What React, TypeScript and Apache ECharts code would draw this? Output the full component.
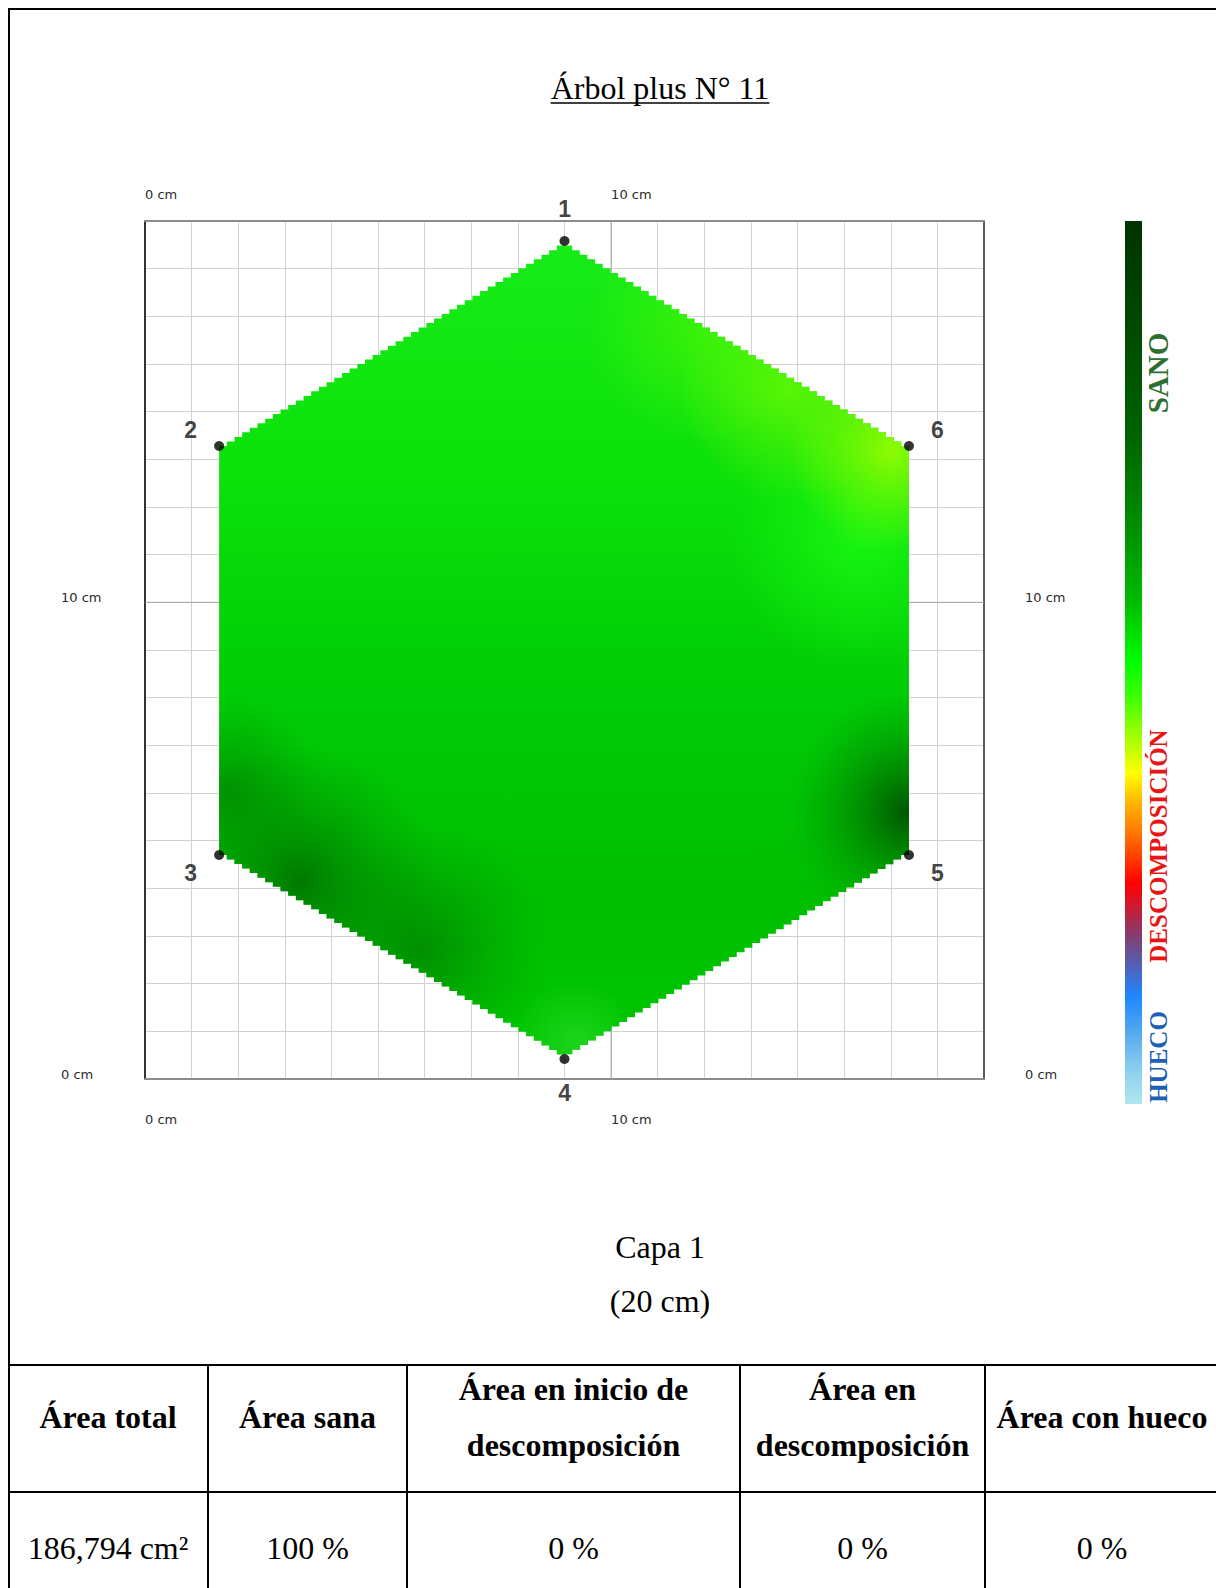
import React, { useEffect, useRef } from "react";
import * as echarts from "echarts";

// ---------- data ----------
const TITLE = "Árbol plus N° 11";
const LAYER_LABEL = "Capa 1";
const HEIGHT_LABEL = "(20 cm)";

const SENSOR_NAMES = ["1", "2", "3", "4", "5", "6"];
const SENSOR_X = [9.0, 1.59, 1.59, 9.0, 16.39, 16.39]; // cm
const SENSOR_Y = [17.58, 13.28, 4.7, 0.42, 4.7, 13.28]; // cm

const AXIS_MIN = 0;
const AXIS_MAX = 18;
const AXIS_STEP = 1;
const LABELED_TICKS = [0, 10];
const MAJOR_TICKS = [10];

const LEGEND_LABELS = ["SANO", "DESCOMPOSICIÓN", "HUECO"];

const TABLE_HEADERS = [
  "Área total",
  "Área sana",
  "Área en inicio de\ndescomposición",
  "Área en\ndescomposición",
  "Área con hueco",
];
const TABLE_VALUES = ["186,794 cm²", "100 %", "0 %", "0 %", "0 %"];

// ---------- styling / layout ----------
const SERIF = "'Liberation Serif', 'Times New Roman', serif";
const SANS = "'Liberation Sans', Arial, sans-serif";
const GRID = { left: 145, top: 221, width: 839, height: 858 };
const COL_EDGES = [8, 208, 407, 740, 985, 1219];
const ROW_LINES = [1365, 1492];

// Shading of the tomogram field (cm coords, radius in cm)
const FIELD_SHADES = [
  { x: 15.34, y: 11.31, r: 2.8, c0: "rgba(30,255,20,0.7)", c1: "rgba(30,255,20,0)" },
  { x: 11.91, y: 15.71, r: 2.4, c0: "rgba(95,250,0,0.5)", c1: "rgba(95,250,0,0)" },
  { x: 13.84, y: 14.45, r: 2.4, c0: "rgba(130,255,0,0.65)", c1: "rgba(130,255,0,0)" },
  { x: 16.0, y: 13.2, r: 2.2, c0: "rgba(165,255,0,0.85)", c1: "rgba(150,255,0,0)" },
  { x: 16.39, y: 5.6, r: 2.6, c0: "rgba(0,72,0,0.9)", c1: "rgba(0,140,0,0)" },
  { x: 3.33, y: 4.17, r: 2.9, c0: "rgba(0,90,0,0.7)", c1: "rgba(0,130,0,0)" },
  { x: 5.9, y: 2.71, r: 2.7, c0: "rgba(0,100,0,0.55)", c1: "rgba(0,130,0,0)" },
  { x: 1.8, y: 6.06, r: 2.0, c0: "rgba(0,100,0,0.5)", c1: "rgba(0,130,0,0)" },
  { x: 9.23, y: 0.82, r: 1.3, c0: "rgba(50,225,50,0.55)", c1: "rgba(50,225,50,0)" },
];

const COLORBAR_STOPS = [
  { offset: 0, color: "#003300" },
  { offset: 0.09, color: "#004400" },
  { offset: 0.24, color: "#006200" },
  { offset: 0.35, color: "#009000" },
  { offset: 0.43, color: "#00bb00" },
  { offset: 0.5, color: "#00ff00" },
  { offset: 0.54, color: "#40ff00" },
  { offset: 0.58, color: "#99ff00" },
  { offset: 0.625, color: "#ffff00" },
  { offset: 0.656, color: "#ffbb00" },
  { offset: 0.693, color: "#ff7700" },
  { offset: 0.75, color: "#ff0000" },
  { offset: 0.777, color: "#cc1a33" },
  { offset: 0.806, color: "#8a3a6a" },
  { offset: 0.837, color: "#5a5aaa" },
  { offset: 0.879, color: "#1e88ff" },
  { offset: 0.92, color: "#55aaf0" },
  { offset: 0.958, color: "#88ccee" },
  { offset: 1, color: "#b0e8f0" },
];

function stairs(pts: number[][], cx: number, cy: number, step: number) {
  const out: number[][] = [];
  const n = pts.length;
  for (let i = 0; i < n; i++) {
    const A = pts[i];
    const B = pts[(i + 1) % n];
    const len = Math.hypot(B[0] - A[0], B[1] - A[1]);
    const m = Math.max(1, Math.round(len / step));
    for (let k = 0; k < m; k++) {
      const a = [A[0] + ((B[0] - A[0]) * k) / m, A[1] + ((B[1] - A[1]) * k) / m];
      const b = [A[0] + ((B[0] - A[0]) * (k + 1)) / m, A[1] + ((B[1] - A[1]) * (k + 1)) / m];
      out.push(a);
      const c1 = [b[0], a[1]];
      const c2 = [a[0], b[1]];
      const d1 = Math.hypot(c1[0] - cx, c1[1] - cy);
      const d2 = Math.hypot(c2[0] - cx, c2[1] - cy);
      out.push(d1 < d2 ? c1 : c2);
    }
  }
  return out;
}

function measure(text: string, font: string) {
  const c = document.createElement("canvas").getContext("2d");
  if (!c) return text.length * 14;
  c.font = font;
  return c.measureText(text).width;
}

function buildOption() {
  const cxCm = SENSOR_X.reduce((a, b) => a + b, 0) / SENSOR_X.length;
  const cyCm = SENSOR_Y.reduce((a, b) => a + b, 0) / SENSOR_Y.length;
  const pxPerCmX = GRID.width / (AXIS_MAX - AXIS_MIN);
  const pxPerCmY = GRID.height / (AXIS_MAX - AXIS_MIN);

  const sensorData = SENSOR_X.map((x, i) => {
    const dx = (x - cxCm) * pxPerCmX;
    const dy = -(SENSOR_Y[i] - cyCm) * pxPerCmY;
    const l = Math.hypot(dx, dy) || 1;
    return {
      name: SENSOR_NAMES[i],
      value: [x, SENSOR_Y[i]],
      label: { offset: [(dx / l) * 33, (dy / l) * 33 + 1] },
    };
  });

  const labelFmt = (v: number) => (LABELED_TICKS.indexOf(v) >= 0 ? `${v} cm` : "");
  const axisLabelBase = {
    formatter: labelFmt,
    fontFamily: "'DejaVu Sans', Verdana, sans-serif",
    fontSize: 13,
    color: "#2a2a2a",
  };

  const xAxisBase = {
    type: "value",
    min: AXIS_MIN,
    max: AXIS_MAX,
    interval: AXIS_STEP,
    axisTick: { show: false },
  };

  const titleW = measure(TITLE, `32px ${SERIF}`);

  const graphics: any[] = [];
  // title
  graphics.push({
    type: "text",
    x: 660,
    y: 88,
    style: { text: TITLE, font: `32px ${SERIF}`, fill: "#000", align: "center", verticalAlign: "middle" },
  });
  graphics.push({
    type: "line",
    shape: { x1: 660 - titleW / 2, y1: 103, x2: 660 + titleW / 2, y2: 103 },
    style: { stroke: "#000", lineWidth: 1.6 },
  });
  // layer captions
  graphics.push({
    type: "text",
    x: 660,
    y: 1247,
    style: { text: LAYER_LABEL, font: `32px ${SERIF}`, fill: "#000", align: "center", verticalAlign: "middle" },
  });
  graphics.push({
    type: "text",
    x: 660,
    y: 1301,
    style: { text: HEIGHT_LABEL, font: `32px ${SERIF}`, fill: "#000", align: "center", verticalAlign: "middle" },
  });
  // color bar
  graphics.push({
    type: "rect",
    shape: { x: 1125, y: 221, width: 17, height: 883 },
    style: { fill: new echarts.graphic.LinearGradient(0, 0, 0, 1, COLORBAR_STOPS) },
  });
  const legendStyles = [
    { y: 373, size: 29, color: "#2f6f2f" },
    { y: 846, size: 25, color: "#e81515" },
    { y: 1057, size: 25, color: "#1d60b3" },
  ];
  LEGEND_LABELS.forEach((t, i) => {
    graphics.push({
      type: "text",
      x: 1158,
      y: legendStyles[i].y,
      rotation: Math.PI / 2,
      style: {
        text: t,
        font: `bold ${legendStyles[i].size}px ${SERIF}`,
        fill: legendStyles[i].color,
        align: "center",
        verticalAlign: "middle",
      },
    });
  });
  // frame & table lines
  const lineStyle = { stroke: "#000", lineWidth: 2 };
  graphics.push({ type: "line", shape: { x1: 9, y1: 8, x2: 9, y2: 1588 }, style: lineStyle });
  graphics.push({ type: "line", shape: { x1: 8, y1: 9, x2: 1216, y2: 9 }, style: lineStyle });
  ROW_LINES.forEach((y) =>
    graphics.push({ type: "line", shape: { x1: 8, y1: y, x2: 1216, y2: y }, style: lineStyle })
  );
  COL_EDGES.slice(1, 5).forEach((x) =>
    graphics.push({ type: "line", shape: { x1: x, y1: ROW_LINES[0], x2: x, y2: 1588 }, style: lineStyle })
  );
  TABLE_HEADERS.forEach((t, i) => {
    const cx = (COL_EDGES[i] + COL_EDGES[i + 1]) / 2;
    graphics.push({
      type: "text",
      x: cx,
      y: 1417,
      style: {
        text: t,
        font: `bold 32px ${SERIF}`,
        lineHeight: 56,
        fill: "#000",
        align: "center",
        verticalAlign: "middle",
      },
    });
  });
  TABLE_VALUES.forEach((t, i) => {
    const cx = (COL_EDGES[i] + COL_EDGES[i + 1]) / 2;
    graphics.push({
      type: "text",
      x: cx,
      y: 1548,
      style: { text: t, font: `32px ${SERIF}`, fill: "#000", align: "center", verticalAlign: "middle" },
    });
  });

  return {
    animation: false,
    backgroundColor: "#fff",
    grid: { ...GRID, containLabel: false },
    xAxis: [
      {
        ...xAxisBase,
        position: "top",
        axisLine: { show: true, onZero: false, lineStyle: { color: "#8c8c8c", width: 2 } },
        axisLabel: { ...axisLabelBase, align: "left", verticalAlign: "middle", margin: 27 },
        splitLine: { show: true, lineStyle: { color: "#d2d2d2", width: 1 } },
      },
      {
        ...xAxisBase,
        position: "bottom",
        axisLine: { show: true, onZero: false, lineStyle: { color: "#8c8c8c", width: 2 } },
        axisLabel: { ...axisLabelBase, align: "left", verticalAlign: "middle", margin: 40 },
        splitLine: { show: false },
      },
    ],
    yAxis: [
      {
        ...xAxisBase,
        position: "left",
        axisLine: { show: true, onZero: false, lineStyle: { color: "#333", width: 2 } },
        axisLabel: { ...axisLabelBase, align: "left", verticalAlign: "bottom", lineHeight: 9, margin: 84 },
        splitLine: { show: true, lineStyle: { color: "#d2d2d2", width: 1 } },
      },
      {
        ...xAxisBase,
        position: "right",
        axisLine: { show: true, onZero: false, lineStyle: { color: "#5a5a5a", width: 2 } },
        axisLabel: { ...axisLabelBase, align: "left", verticalAlign: "bottom", lineHeight: 9, margin: 41 },
        splitLine: { show: false },
      },
    ],
    series: [
      {
        type: "custom",
        name: "major",
        xAxisIndex: 0,
        yAxisIndex: 0,
        z: 1,
        silent: true,
        data: MAJOR_TICKS.map((v) => [v, v]),
        encode: { x: 0, y: 1 },
        renderItem: (params: any, api: any) => {
          const cs = params.coordSys;
          const p = api.coord([api.value(0), api.value(1)]);
          const st = { stroke: "#a3a3a3", lineWidth: 1 };
          return {
            type: "group",
            children: [
              { type: "line", shape: { x1: p[0], y1: cs.y, x2: p[0], y2: cs.y + cs.height }, style: st },
              { type: "line", shape: { x1: cs.x, y1: p[1], x2: cs.x + cs.width, y2: p[1] }, style: st },
            ],
          };
        },
      },
      {
        type: "custom",
        name: "tomogram",
        xAxisIndex: 0,
        yAxisIndex: 0,
        z: 2,
        silent: true,
        data: SENSOR_X.map((x, i) => [x, SENSOR_Y[i]]),
        encode: { x: 0, y: 1 },
        renderItem: (params: any, api: any) => {
          if (params.dataIndex !== 0) return null;
          const pts = SENSOR_X.map((x, i) => api.coord([x, SENSOR_Y[i]]));
          const c = api.coord([cxCm, cyCm]);
          const poly = stairs(pts, c[0], c[1], 9);
          const top = Math.min(...pts.map((p: number[]) => p[1]));
          const bottom = Math.max(...pts.map((p: number[]) => p[1]));
          const children: any[] = [
            {
              type: "polygon",
              shape: { points: poly },
              style: {
                fill: new echarts.graphic.LinearGradient(
                  0,
                  top,
                  0,
                  bottom,
                  [
                    { offset: 0, color: "#18ec18" },
                    { offset: 0.3, color: "#0ae00a" },
                    { offset: 0.55, color: "#00cc06" },
                    { offset: 0.8, color: "#00be00" },
                    { offset: 1, color: "#00c600" },
                  ],
                  true
                ),
              },
            },
          ];
          FIELD_SHADES.forEach((s) => {
            const sc = api.coord([s.x, s.y]);
            const r = s.r * pxPerCmX;
            children.push({
              type: "polygon",
              shape: { points: poly },
              style: {
                fill: new echarts.graphic.RadialGradient(
                  sc[0],
                  sc[1],
                  r,
                  [
                    { offset: 0, color: s.c0 },
                    { offset: 1, color: s.c1 },
                  ],
                  true
                ),
              },
            });
          });
          return { type: "group", children };
        },
      },
      {
        type: "scatter",
        name: "sensors",
        xAxisIndex: 0,
        yAxisIndex: 0,
        z: 3,
        symbol: "circle",
        symbolSize: 10,
        itemStyle: { color: "#000" },
        label: {
          show: true,
          position: "inside",
          formatter: "{b}",
          fontFamily: SANS,
          fontWeight: "bold",
          fontSize: 23,
          color: "#111",
          align: "center",
          verticalAlign: "middle",
        },
        data: sensorData,
      },
    ],
    graphic: graphics,
  };
}

export default function App() {
  const ref = useRef<HTMLDivElement>(null);
  useEffect(() => {
    document.body.style.overflow = "hidden";
    const el = ref.current;
    if (!el) return;
    const chart = echarts.init(el, undefined, { renderer: "svg" });
    chart.setOption(buildOption() as any);
    return () => {
      chart.dispose();
    };
  }, []);
  return (
    <div
      ref={ref}
      style={{ position: "absolute", left: 0, top: 0, width: 1216, height: 1588, background: "#fff" }}
    />
  );
}
